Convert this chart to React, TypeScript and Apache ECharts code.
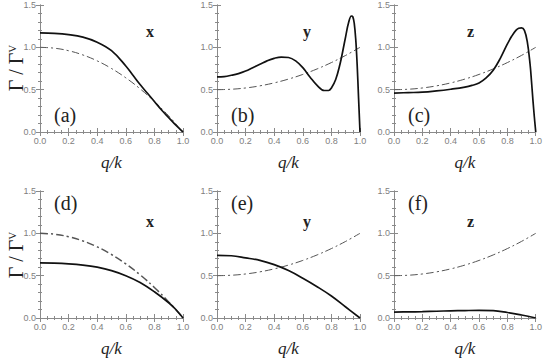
import React, { useEffect, useRef } from "react";
import * as echarts from "echarts";

// ---- data ----
const qDash = [0, 0.1, 0.2, 0.3, 0.4, 0.5, 0.6, 0.7, 0.8, 0.9, 1.0];
const dashX = [1.0, 0.99, 0.96, 0.91, 0.84, 0.75, 0.64, 0.51, 0.36, 0.19, 0];
const dashYZ = [0.5, 0.505, 0.52, 0.545, 0.58, 0.625, 0.68, 0.745, 0.82, 0.905, 1.0];

const qA = [0, 0.1, 0.2, 0.3, 0.4, 0.5, 0.6, 0.65, 0.7, 0.75, 0.8, 0.85, 0.9, 0.95, 1.0];
const solidA = [1.17, 1.165, 1.15, 1.12, 1.06, 0.96, 0.78, 0.67, 0.56, 0.46, 0.36, 0.26, 0.17, 0.08, 0];

const qB = [0, 0.05, 0.1, 0.15, 0.2, 0.25, 0.3, 0.35, 0.4, 0.45, 0.5, 0.55, 0.6, 0.65, 0.7, 0.75, 0.78, 0.8, 0.83, 0.86, 0.88, 0.9, 0.92, 0.94, 0.95, 0.96, 0.97, 0.98, 0.99, 1.0];
const solidB = [0.65, 0.655, 0.67, 0.69, 0.72, 0.76, 0.8, 0.84, 0.87, 0.885, 0.88, 0.84, 0.76, 0.65, 0.55, 0.49, 0.49, 0.52, 0.62, 0.8, 0.96, 1.13, 1.29, 1.37, 1.36, 1.28, 1.1, 0.8, 0.4, 0];

const qC = [0, 0.1, 0.2, 0.3, 0.4, 0.5, 0.55, 0.6, 0.65, 0.7, 0.75, 0.8, 0.83, 0.86, 0.88, 0.9, 0.92, 0.94, 0.96, 0.97, 0.98, 0.99, 1.0];
const solidC = [0.46, 0.465, 0.47, 0.485, 0.505, 0.53, 0.55, 0.58, 0.64, 0.73, 0.87, 1.04, 1.13, 1.2, 1.225, 1.23, 1.2, 1.07, 0.8, 0.6, 0.38, 0.18, 0];

const qD = [0, 0.1, 0.2, 0.3, 0.4, 0.5, 0.6, 0.7, 0.8, 0.9, 0.95, 1.0];
const solidD = [0.65, 0.648, 0.64, 0.625, 0.6, 0.56, 0.5, 0.42, 0.31, 0.18, 0.1, 0];

const qE = [0, 0.1, 0.2, 0.3, 0.4, 0.5, 0.6, 0.7, 0.8, 0.9, 1.0];
const solidE = [0.74, 0.735, 0.71, 0.68, 0.63, 0.56, 0.47, 0.37, 0.26, 0.13, 0];

const qF = [0, 0.1, 0.2, 0.3, 0.4, 0.5, 0.6, 0.7, 0.8, 0.9, 1.0];
const solidF = [0.07, 0.072, 0.075, 0.08, 0.085, 0.088, 0.09, 0.087, 0.065, 0.035, 0];

const xTicks = ["0.0", "0.2", "0.4", "0.6", "0.8", "1.0"];
const yTicks = ["0.0", "0.5", "1.0", "1.5"];
const panelLetters = ["(a)", "(b)", "(c)", "(d)", "(e)", "(f)"];
const componentLabels = ["x", "y", "z", "x", "y", "z"];

const pairs = (q: number[], v: number[]) => q.map((x, i) => [x, v[i]]);

const panels = [
  { q: qA, solid: solidA, dash: dashX },
  { q: qB, solid: solidB, dash: dashYZ },
  { q: qC, solid: solidC, dash: dashYZ },
  { q: qD, solid: solidD, dash: dashX },
  { q: qE, solid: solidE, dash: dashYZ },
  { q: qF, solid: solidF, dash: dashYZ },
];

// layout
const colLeft = [40, 217, 394];
const colWidth = 143;
const rowTop = [5, 191];
const rowHeight = 127;
const SERIF = "Liberation Serif";

export default function App() {
  const ref = useRef<HTMLDivElement>(null);
  useEffect(() => {
    if (!ref.current) return;
    const chart = echarts.init(ref.current, null, { renderer: "svg" });
    const grids: any[] = [];
    const xAxes: any[] = [];
    const yAxes: any[] = [];
    const series: any[] = [];
    const graphics: any[] = [];
    const frame = { show: true, lineStyle: { color: "#8a8a8a", width: 1 } };
    const tickStyle = { color: "#8a8a8a", width: 1 };

    panels.forEach((p, i) => {
      const col = i % 3;
      const row = Math.floor(i / 3);
      grids.push({ left: colLeft[col], top: rowTop[row], width: colWidth, height: rowHeight });
      const baseX = {
        type: "value", gridIndex: i, min: 0, max: 1, interval: 0.2,
        axisLine: frame, splitLine: { show: false },
        axisTick: { show: true, inside: true, length: 4, lineStyle: tickStyle },
        minorTick: { show: true, splitNumber: 4, length: 2, lineStyle: tickStyle },
      };
      xAxes.push({
        ...baseX, position: "bottom",
        axisLabel: {
          show: true, margin: 4, color: "#808080", fontSize: 9, fontFamily: "Liberation Sans",
          formatter: (v: number) => xTicks[Math.round(v / 0.2)] ?? "",
        },
        name: "q/k", nameLocation: "middle", nameGap: 22,
        nameTextStyle: { fontFamily: SERIF, fontStyle: "italic", fontSize: 17, color: "#222" },
      });
      xAxes.push({ ...baseX, position: "top", axisLabel: { show: false } });
      const baseY = {
        type: "value", gridIndex: i, min: 0, max: 1.5, interval: 0.5,
        axisLine: frame, splitLine: { show: false },
        axisTick: { show: true, inside: true, length: 4, lineStyle: tickStyle },
        minorTick: { show: true, splitNumber: 5, length: 2, lineStyle: tickStyle },
      };
      yAxes.push({
        ...baseY, position: "left",
        axisLabel: {
          show: true, margin: 4, color: "#808080", fontSize: 9, fontFamily: "Liberation Sans",
          formatter: (v: number) => yTicks[Math.round(v / 0.5)] ?? "",
        },
      });
      yAxes.push({ ...baseY, position: "right", axisLabel: { show: false } });

      series.push({
        type: "line", xAxisIndex: 2 * i, yAxisIndex: 2 * i, data: pairs(qDash, p.dash),
        smooth: 0.4, showSymbol: false, symbol: "none",
        lineStyle: { color: "#555", width: i === 3 ? 1.5 : 1, type: [8, 3, 2, 3] },
      });
      series.push({
        type: "line", xAxisIndex: 2 * i, yAxisIndex: 2 * i, data: pairs(p.q, p.solid),
        smooth: 0.4, showSymbol: false, symbol: "none",
        lineStyle: { color: "#111", width: 1.7 },
      });

      const gx = colLeft[col];
      const gy = rowTop[row];
      graphics.push({
        type: "text", left: gx + 14, top: row === 0 ? gy + 100 : gy + 2,
        style: { text: panelLetters[i], fontSize: 20, fontFamily: SERIF, fill: "#222" },
      });
      graphics.push({
        type: "text", left: gx + (col === 1 ? 86 : col === 2 ? 73 : 106), top: gy + (row === 0 ? 18 : 22),
        style: { text: componentLabels[i], fontSize: 16, fontWeight: "bold", fontFamily: SERIF, fill: "#222" },
      });
    });

    [68, 255].forEach((cy) => {
      graphics.push({
        type: "text", x: 16, y: cy, rotation: Math.PI / 2,
        style: {
          text: "Γ / Γ{s|V}",
          rich: { s: { fontSize: 11, fontFamily: SERIF, padding: [0, 0, 9, 0] } },
          fontSize: 20, fontFamily: SERIF, fill: "#222", align: "center", verticalAlign: "middle",
        },
      });
    });

    chart.setOption({
      animation: false,
      backgroundColor: "#fff",
      grid: grids,
      xAxis: xAxes,
      yAxis: yAxes,
      series,
      graphic: graphics,
    });
    return () => chart.dispose();
  }, []);
  return <div ref={ref} style={{ width: 545, height: 358, position: "absolute", left: 0, top: 0 }} />;
}
